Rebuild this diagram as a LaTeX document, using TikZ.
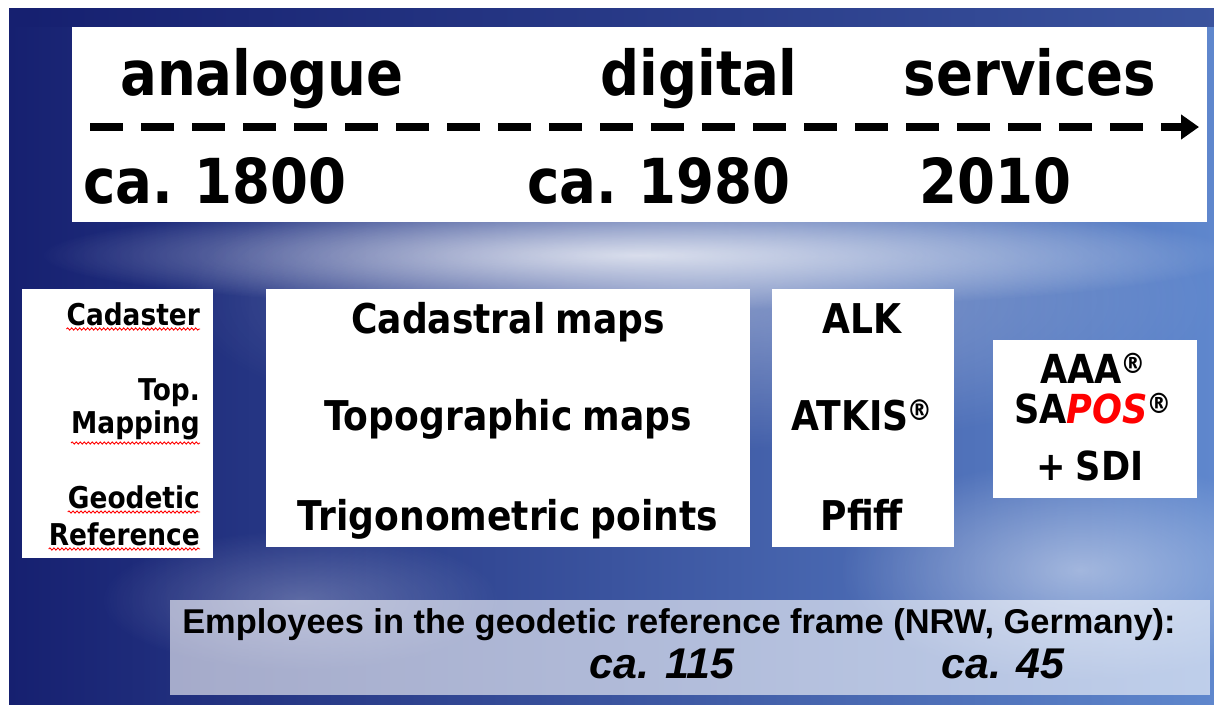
\documentclass[tikz,border=0pt]{standalone}
\usepackage{fontspec}
\setmainfont{DejaVu Sans}[FakeStretch=0.88, WordSpace=0.8]
\newfontfamily\arialf{Liberation Sans}
\usetikzlibrary{arrows.meta,decorations.pathmorphing,fadings}
\definecolor{bgdark}{RGB}{22,32,112}
\definecolor{bgmid}{RGB}{55,90,175}
\definecolor{bglight}{RGB}{95,135,205}
\definecolor{posred}{RGB}{255,0,0}
\tikzfading[name=glowfade, inner color=transparent!0, outer color=transparent!100]
\newcommand{\regmark}{\kern-1.5pt\textsuperscript{®}}
\begin{document}
\begin{tikzpicture}[x=1pt,y=-1pt,
  panel/.style={fill=white, draw=none},
  bigtxt/.style={font=\fontsize{62}{62}\selectfont\bfseries, inner sep=0pt, anchor=base},
  midtxt/.style={font=\fontsize{41}{41}\selectfont\bfseries, inner sep=0pt, anchor=base},
  lefttxt/.style={font=\fontsize{30}{30}\selectfont\bfseries, inner sep=0pt, anchor=base east},
  rtxt/.style={font=\fontsize{40}{40}\selectfont\bfseries, inner sep=0pt, anchor=base},
  emptxt/.style={font=\arialf\fontsize{34.4}{34.4}\selectfont\bfseries, inner sep=0pt, anchor=base},
  numtxt/.style={font=\arialf\fontsize{43}{43}\selectfont\bfseries\itshape, inner sep=0pt, anchor=base},
  spell/.style={draw=red, line width=0.9pt, decorate, decoration={snake, amplitude=1.1pt, segment length=4pt}},
  timeline/.style={line width=8pt, dash pattern=on 33pt off 18pt, -{Triangle[length=18pt,width=24pt]}}
]
\useasboundingbox (0,0) rectangle (1214,704);
\fill[white] (0,0) rectangle (1214,704);
% background
\shade[left color=bgdark, right color=bglight] (9,8) rectangle (1214,704);
\fill[bgdark, opacity=0.5] (9,8) rectangle (1214,27);
\fill[white, opacity=0.75, path fading=glowfade] (640,255) ellipse [x radius=600, y radius=55];
\fill[white, opacity=0.35, path fading=glowfade] (700,300) ellipse [x radius=520, y radius=150];
\fill[white, opacity=0.45, path fading=glowfade] (1080,570) ellipse [x radius=240, y radius=110];
\fill[white, opacity=0.25, path fading=glowfade] (300,600) ellipse [x radius=200, y radius=70];
% top panel
\fill[panel] (72,27) rectangle (1207,222);
\node[bigtxt] (analogue) at (262,95) {analogue};
\node[bigtxt] (digital) at (699,95) {digital};
\node[bigtxt] (services) at (1030,95) {services};
\coordinate (tstart) at (90,127);
\coordinate (tend) at (1199,127);
\draw[timeline] (tstart) -- (tend);
\node[bigtxt] (y1800) at (215,203) {ca. 1800};
\node[bigtxt] (y1980) at (659,203) {ca. 1980};
\node[bigtxt] (y2010) at (995,203) {2010};
% left panel
\fill[panel] (22,289) rectangle (213,558);
\node[lefttxt] (cad) at (200,325) {Cadaster};
\node[lefttxt] (top) at (200,400) {Top.};
\node[lefttxt] (map) at (200,433) {Mapping};
\node[lefttxt] (geo) at (200,508) {Geodetic};
\node[lefttxt] (ref) at (200,545) {Reference};
\draw[spell] ([yshift=-4pt]cad.base west) -- ([yshift=-4pt]cad.base east);
\draw[spell] ([yshift=-10pt]map.base west) -- ([yshift=-10pt]map.base east);
\draw[spell] ([yshift=-4pt]geo.base west) -- ([yshift=-4pt]geo.base east);
\draw[spell] ([yshift=-4pt]ref.base west) -- ([yshift=-4pt]ref.base east);
% middle panel
\fill[panel] (266,289) rectangle (750,547);
\node[midtxt] (cmaps) at (508,333) {Cadastral maps};
\node[midtxt] (tmaps) at (508,430) {Topographic maps};
\node[midtxt] (tpts) at (508,530) {Trigonometric points};
% ALK panel
\fill[panel] (772,289) rectangle (954,547);
\node[midtxt] (alk) at (862,333) {ALK};
\node[midtxt] (atkis) at (862,430) {ATKIS\regmark};
\node[midtxt] (pfiff) at (862,530) {Pfiff};
% right panel
\fill[panel] (993,340) rectangle (1197,498);
\node[rtxt] (aaa) at (1093,383) {AAA\regmark};
\node[rtxt] (sapos) at (1093,423) {SA\textcolor{posred}{\itshape POS}\regmark};
\node[rtxt] (sdi) at (1090,480) {+ SDI};
% bottom panel
\fill[white, opacity=0.6] (170,600) rectangle (1210,695);
\node[emptxt] (emp) at (679,633) {Employees in the geodetic reference frame (NRW, Germany):};
\node[numtxt] (n115) at (662,678) {ca. 115};
\node[numtxt] (n45) at (1003,678) {ca. 45};
\end{tikzpicture}
\end{document}
